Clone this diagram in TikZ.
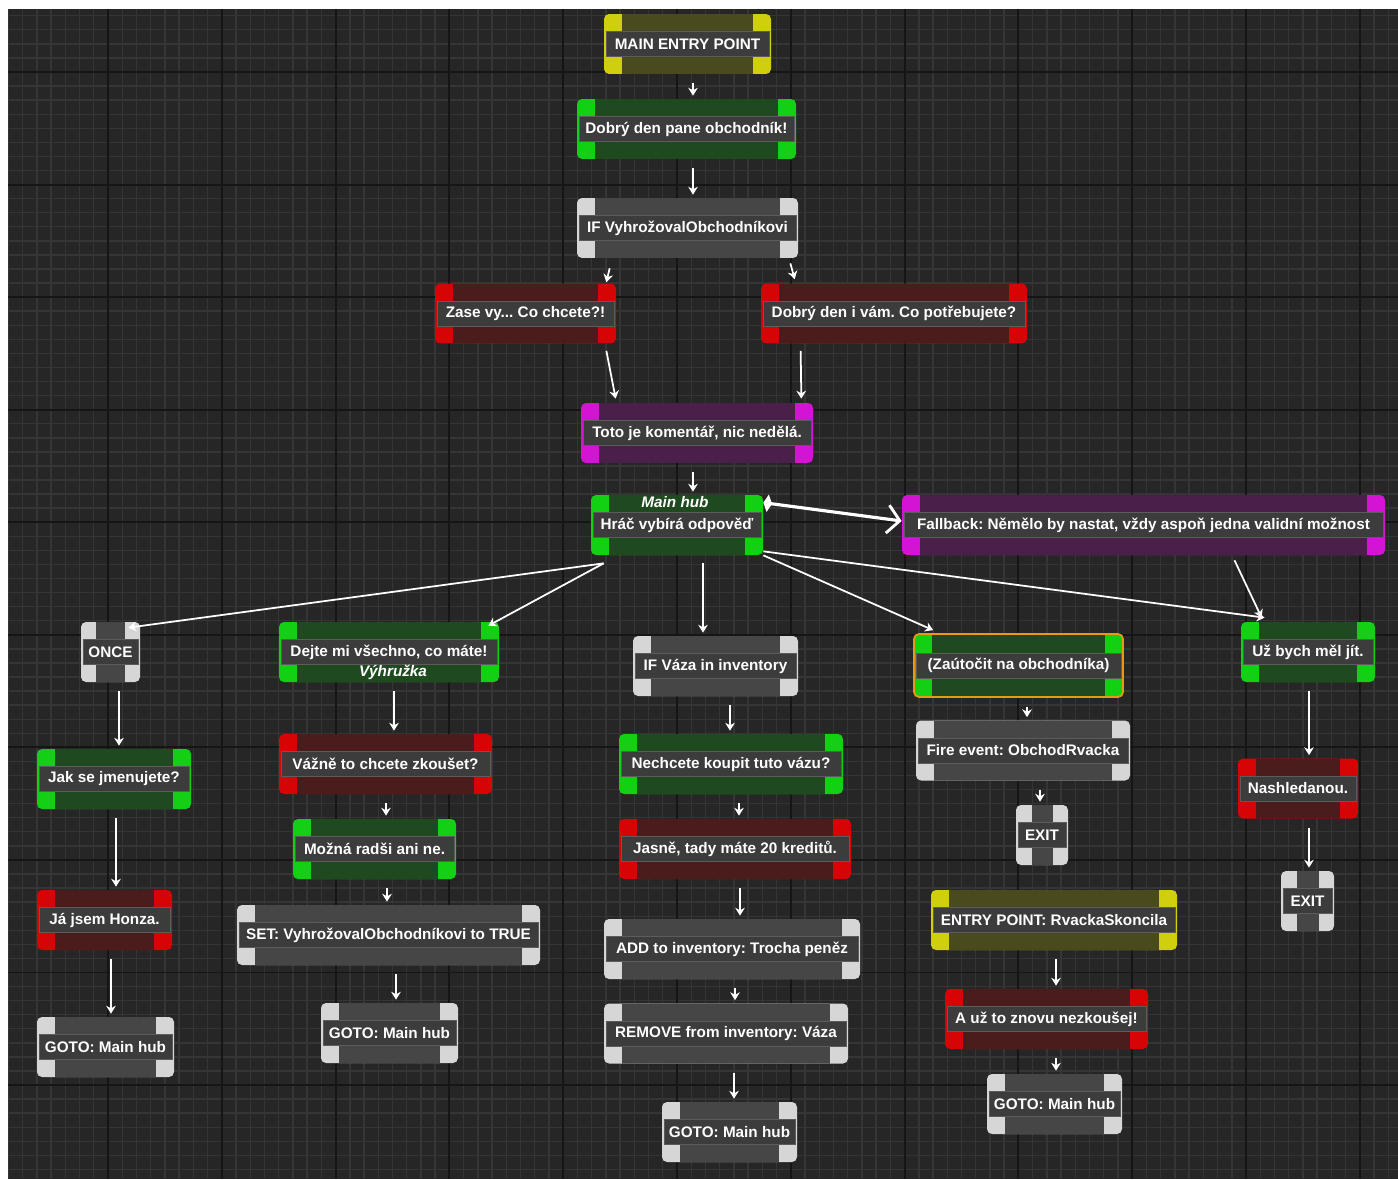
\documentclass[tikz,border=0pt]{standalone}
\usepackage{fontspec}
\setmainfont{Liberation Sans}
\usetikzlibrary{arrows.meta,calc,positioning}
\definecolor{GridBase}{HTML}{262626}
\definecolor{GridFine}{HTML}{353535}
\definecolor{GridMajor}{HTML}{151515}
\definecolor{BarFill}{HTML}{3C3C3C}
\definecolor{BarLine}{HTML}{5C5C5C}
\definecolor{PinYellow}{HTML}{CFCF0E}
\definecolor{BodyYellow}{HTML}{4A4A1F}
\definecolor{PinGreen}{HTML}{14D014}
\definecolor{BodyGreen}{HTML}{1F4A1F}
\definecolor{PinRed}{HTML}{D60404}
\definecolor{BodyRed}{HTML}{4A1C1C}
\definecolor{PinMagenta}{HTML}{D414D4}
\definecolor{BodyMagenta}{HTML}{4A1F4A}
\definecolor{PinGrey}{HTML}{D6D6D6}
\definecolor{BodyGrey}{HTML}{464646}
\definecolor{SelectOrange}{HTML}{E89A10}

\tikzset{
  uenode/.style n args={3}{fill=#1, rounded corners=1mm, minimum height=1.2cm, inner sep=0pt, text=white,
    font=\fontsize{8.7}{10}\selectfont\bfseries,
    path picture={
      \fill[#2,sharp corners] ([xshift=#3]path picture bounding box.north west) rectangle ([xshift=-#3]path picture bounding box.south east);
      \filldraw[fill=BarFill,draw=BarLine,line width=0.5pt,sharp corners] ([xshift=0.4mm,yshift=2.5mm]path picture bounding box.west) rectangle ([xshift=-0.4mm,yshift=-2.5mm]path picture bounding box.east);
    }},
  ylwnode/.style={uenode={PinYellow}{BodyYellow}{3.6mm}},
  grnnode/.style={uenode={PinGreen}{BodyGreen}{3.6mm}},
  rednode/.style={uenode={PinRed}{BodyRed}{3.6mm}},
  magnode/.style={uenode={PinMagenta}{BodyMagenta}{3.6mm}},
  grynode/.style={uenode={PinGrey}{BodyGrey}{3.6mm}},
  gatenode/.style={uenode={PinGrey}{BodyGrey}{3.1mm}},
  wpx/.style={minimum width=#1*0.02cm},
  sublbl/.style={inner sep=0pt, text=white, font=\fontsize{8.7}{10}\selectfont\bfseries\itshape},
  wire/.style={draw=white, line width=1pt, -{Stealth[length=4.5pt,width=5.5pt]}, shorten <=0.18cm, shorten >=0.06cm},
  fanwire/.style={draw=white, line width=1pt, -{Stealth[length=4.5pt,width=5.5pt]}},
}

\begin{document}
\frenchspacing
\begin{tikzpicture}[x=0.02cm, y=-0.02cm]
  \useasboundingbox (0,0) rectangle (1398,1179);
  \fill[white] (0,0) rectangle (1398,1179);
  % graph background
  \begin{scope}
    \clip (8,9) rectangle (1398,1179);
    \fill[GridBase] (8,9) rectangle (1398,1179);
    \foreach \k in {-7,...,90}{\draw[GridFine,line width=0.8pt] ({108+\k*14.225},9) -- ++(0,1170);}
    \foreach \k in {-5,...,79}{\draw[GridFine,line width=0.8pt] (8,{72+\k*14.07}) -- ++(1390,0);}
    \foreach \k in {0,...,11}{\draw[GridMajor,line width=1.1pt] ({108+\k*113.8},9) -- ++(0,1170);}
    \foreach \k in {0,...,9}{\draw[GridMajor,line width=1.1pt] (8,{72+\k*112.56}) -- ++(1390,0);}
  \end{scope}

  % top chain
  \node[ylwnode,wpx=167] (entry) at (687.5,44) {MAIN ENTRY POINT};
  \node[grnnode,wpx=219] (greet) at (686.5,129) {Dobrý den pane obchodník!};
  \node[grynode,wpx=221] (ifthreat) at (687.5,228) {IF VyhrožovalObchodníkovi};
  \node[rednode,wpx=181] (again) at (525.5,313.5) {Zase vy... Co chcete?!};
  \node[rednode,wpx=266] (hello) at (894,313.5) {Dobrý den i vám. Co potřebujete?};
  \node[magnode,wpx=232] (note) at (697,433) {Toto je komentář, nic nedělá.};
  \node[grnnode,wpx=172,label={[sublbl,anchor=north,yshift=-0.03cm,xshift=-0.04cm]north:Main hub}] (hub) at (677,525) {Hráč vybírá odpověď};
  \node[magnode,wpx=483] (fallback) at (1143.5,525) {Fallback: Němělo by nastat, vždy aspoň jedna validní možnost};

  % hub options
  \node[gatenode,wpx=59] (once) at (110.5,652) {ONCE};
  \node[grnnode,wpx=220,label={[sublbl,anchor=south,yshift=0.05cm,xshift=0.08cm]south:Výhružka}] (threat) at (389,652) {Dejte mi všechno, co máte!};
  \node[grynode,wpx=165] (ifvase) at (715.5,666) {IF Váza in inventory};
  \node[grnnode,wpx=209,minimum height=1.26cm,draw=SelectOrange,line width=1pt] (attack) at (1018.5,665.5) {(Zaútočit na obchodníka)};
  \node[grnnode,wpx=134] (leave) at (1308,652) {Už bych měl jít.};

  % branches
  \node[grnnode,wpx=154] (askname) at (114,779) {Jak se jmenujete?};
  \node[rednode,wpx=135] (honza) at (104.5,920) {Já jsem Honza.};
  \node[grynode,wpx=137] (gotoA) at (105.5,1047) {GOTO: Main hub};
  \node[rednode,wpx=213] (sure) at (385.5,764) {Vážně to chcete zkoušet?};
  \node[grnnode,wpx=163] (maybe) at (374.5,849) {Možná radši ani ne.};
  \node[grynode,wpx=303] (setflag) at (388.5,935) {SET: VyhrožovalObchodníkovi to TRUE};
  \node[grynode,wpx=137] (gotoB) at (389.5,1033) {GOTO: Main hub};
  \node[grnnode,wpx=224] (buy) at (731,764) {Nechcete koupit tuto vázu?};
  \node[rednode,wpx=232] (credit) at (735,849) {Jasně, tady máte 20 kreditů.};
  \node[grynode,wpx=256] (addmoney) at (732,949) {ADD to inventory: Trocha peněz};
  \node[grynode,wpx=244] (removevase) at (726,1033.5) {REMOVE from inventory: Váza};
  \node[grynode,wpx=135] (gotoC) at (729.5,1132) {GOTO: Main hub};
  \node[grynode,wpx=214] (fire) at (1023,750.5) {Fire event: ObchodRvacka};
  \node[gatenode,wpx=52] (exitA) at (1042,835) {EXIT};
  \node[ylwnode,wpx=246] (entryfight) at (1054,920) {ENTRY POINT: RvackaSkoncila};
  \node[rednode,wpx=203] (warn) at (1046.5,1019) {A už to znovu nezkoušej!};
  \node[grynode,wpx=135] (gotoD) at (1054.5,1104) {GOTO: Main hub};
  \node[rednode,wpx=120] (bye) at (1298,788.5) {Nashledanou.};
  \node[gatenode,wpx=53] (exitB) at (1307.5,901) {EXIT};

  % straight wires
  \foreach \a/\b/\dx in {entry/greet/5.5,greet/ifthreat/6.5,note/hub/-4,once/askname/8.5,askname/honza/2,honza/gotoA/6.5,
      threat/sure/5,sure/maybe/0.5,maybe/setflag/12.5,setflag/gotoB/7.5,ifvase/buy/14.5,buy/credit/8,credit/addmoney/5,
      addmoney/removevase/3,removevase/gotoC/8,attack/fire/8.5,fire/exitA/17,entryfight/warn/2,warn/gotoD/9.5,leave/bye/1,bye/exitB/11}
    {\draw[wire] ([xshift=\dx*0.02cm]\a.south) -- ([xshift=\dx*0.02cm]\a.south |- \b.north);}

  % slanted wires
  \draw[fanwire] ($(ifthreat.south west)+(33,10)$) -- ($(again.north east)+(-10,-1)$);
  \draw[fanwire] ($(ifthreat.south east)+(-8,5)$) -- ($(hello.north west)+(34,-4)$);
  \draw[fanwire] ($(again.south east)+(-10,7)$) -- ($(note.north west)+(35,-4)$);
  \draw[fanwire] ($(hello.south west)+(40,7)$) -- ($(note.north east)+(-12,-4)$);

  % hub outputs
  \coordinate (hubL) at ($(hub.south west)+(13,8)$);
  \coordinate (hubM) at ($(hub.south)+(26,8)$);
  \coordinate (hubR) at (hub.south east);
  \draw[fanwire] (hubL) -- ($(once.north east)+(-12,6)$);
  \draw[fanwire] (hubL) -- ($(threat.north east)+(-11,4)$);
  \draw[fanwire] (hubM) -- ($(hubM |- ifvase.north)+(0,-3)$);
  \draw[fanwire] (hubR) -- ($(attack.north west)+(20,-3)$);
  \draw[fanwire] ($(hubR)+(0,-4)$) -- ($(leave.north west)+(24,-4)$);
  \draw[fanwire] ($(fallback.south)+(91,5)$) -- ($(leave.north west)+(21,-4)$);
  \draw[white,line width=1.8pt,{Diamond[length=5pt,width=10pt]}-{Straight Barb[length=7pt,width=16pt,line width=1.6pt]}] ($(hub.north east)+(0,8)$) -- ($(fallback.west)+(0,-4)$);
\end{tikzpicture}
\end{document}
